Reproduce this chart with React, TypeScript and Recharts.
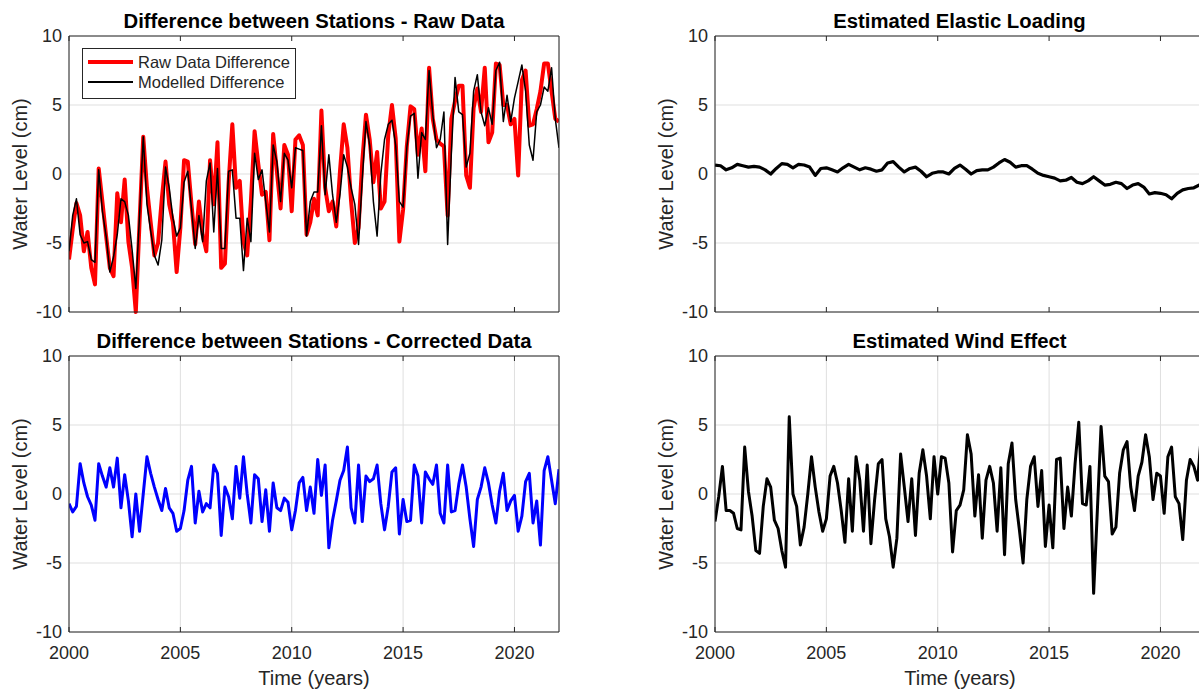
import React from 'react';
import { LineChart, Line, XAxis, YAxis, CartesianGrid } from 'recharts';

// sampling: difference/wind series every 2 months, elastic loading every quarter
const START_YEAR = 2000;
const BIMONTHLY = 6;
const QUARTERLY = 4;

const yearTicks = [2000, 2005, 2010, 2015, 2020];
const levelTicks = [-10, -5, 0, 5, 10];

const rawDiff = [
  -6.2, -4.0, -2.1, -3.0, -5.6, -4.2, -6.8, -8.0, 0.4, -2.0, -4.5, -6.8, -7.4, -1.4, -3.5, -0.4, -4.9, -6.8, -10.0, -3.5,
  2.7, -1.0, -3.5, -5.9, -5.0, -1.8, 0.9, -2.2, -3.5, -7.1, -3.9, 1.0, 0.9, -2.2, -5.1, -2.0, -4.4, -5.6, 1.0, -2.2,
  2.3, -6.8, -6.5, -0.6, 3.6, -1.0, -0.5, -4.9, -5.9, -2.0, 3.1, 0.7, -1.5, -1.3, -4.8, 2.9, 0.2, -2.5, 2.1, 1.4,
  -2.7, 2.5, 2.8, 2.1, -4.4, -3.5, -1.8, -3.0, 4.6, -1.0, -2.7, -2.0, -3.8, 0.2, 3.6, 1.9, -2.0, -5.0, -3.9, 0.9,
  4.3, 2.5, -0.6, 1.6, -2.5, -2.0, 2.8, 5.0, 2.6, -4.9, -2.6, 2.0, 4.9, 4.7, 1.4, 3.3, 0.2, 7.7, 4.0, 2.5,
  2.2, 2.0, -3.0, 4.0, 5.3, 6.4, 6.4, -0.1, -1.0, 4.8, 6.2, 4.5, 7.7, 2.3, 3.0, 8.0, 7.9, 5.0, 5.0, 3.6,
  4.0, -0.1, 6.8, 7.5, 3.5, 3.6, 4.7, 6.0, 8.0, 8.0, 6.0, 4.0, 3.8,
];

const modelledDiff = [
  -5.6, -3.0, -1.8, -4.4, -5.0, -4.9, -6.2, -6.4, 0.3, -2.7, -4.5, -7.1, -6.0, -4.4, -1.8, -2.0, -3.0, -5.5, -8.3, -3.0,
  2.7, -2.2, -4.1, -5.9, -6.6, -4.8, 0.5, -1.0, -3.2, -4.5, -3.9, -0.6, 0.2, -2.5, -5.4, -3.0, -4.9, -0.5, 0.8, -4.2,
  0.4, -5.4, -5.4, 0.2, 0.3, -3.2, -3.2, -7.0, -3.2, -4.9, 1.5, -0.4, 0.3, -2.0, -4.2, 2.1, 0.9, -2.0, 1.5, 1.0,
  -1.0, 1.9, 1.8, 1.7, -4.5, -2.0, -1.3, -1.3, 3.5, -1.5, 1.4, -1.5, -3.5, -1.5, 1.4, 0.5, -1.0, -2.2, -5.1, -0.4,
  3.8, 2.1, -2.0, -4.5, 0.0, 2.5, 3.6, 3.9, 2.1, -2.0, -2.4, 1.9, 4.2, 4.4, -0.3, 3.0, 2.5, 7.5, 4.3, 1.9,
  2.5, 4.5, -5.1, 1.5, 7.0, 4.5, 4.3, 0.5, 1.5, 6.0, 7.2, 4.5, 3.5, 4.8, 3.6, 7.5, 8.1, 3.8, 5.7, 3.8,
  5.5, 6.7, 7.9, 6.0, 2.1, 1.0, 4.5, 5.0, 6.3, 6.0, 7.7, 4.0, 1.9,
];

const correctedDiff = [
  -0.7, -1.3, -0.9, 2.2, 0.8, -0.2, -0.8, -1.9, 2.2, 1.3, 0.5, 1.9, 0.5, 2.6, -1.0, 1.4, -0.5, -3.1, 0.0, -2.7,
  0.0, 2.7, 1.5, 0.5, -0.4, -1.2, 0.4, -1.0, -1.4, -2.7, -2.5, -1.2, 1.0, 2.0, -2.1, 0.2, -1.3, -0.7, -1.0, 2.1,
  1.5, -3.0, 0.5, -0.2, -1.8, 2.0, -0.3, 2.7, 0.0, -2.1, 1.4, 1.1, -2.0, 0.3, -2.7, 0.8, -1.0, -1.2, -0.3, -0.6,
  -2.6, -1.2, 0.8, 1.2, -1.2, 0.5, -1.4, 2.5, -0.1, 2.1, -3.9, -1.9, -0.5, 1.0, 1.7, 3.4, -1.0, -2.1, 2.1, -2.0,
  1.3, 0.9, 1.1, 2.1, -0.7, -2.6, -0.9, 1.6, 1.9, -2.9, -0.4, -2.0, -1.9, 2.1, 1.3, -2.1, 1.6, 1.1, 0.7, 2.1,
  -1.4, -2.1, 2.1, -1.3, -1.2, 0.7, 2.1, 0.5, -1.8, -3.8, -0.4, 0.5, 1.9, 0.8, -0.8, -2.1, 0.2, 1.5, -1.2, -0.5,
  -0.1, -2.7, -1.6, 0.9, 1.5, -2.1, -0.5, -3.7, 1.7, 2.7, 1.0, -0.7, 1.8,
];

const windEffect = [
  -2.0, -0.2, 2.0, -1.2, -1.2, -1.4, -2.5, -2.6, 3.4, 0.2, -1.6, -4.1, -4.3, -0.9, 1.1, 0.5, -1.9, -2.5, -4.1, -5.3,
  5.6, 0.0, -0.9, -3.7, -2.4, 0.0, 2.7, 0.5, -1.3, -2.7, -1.8, 1.3, 2.0, 0.8, -1.2, -3.5, 1.1, -2.7, 2.7, 1.0,
  -2.7, 2.1, -3.6, -0.4, 2.2, 2.5, -1.8, -3.1, -5.3, -3.2, 2.9, 0.5, -2.0, 1.1, -3.0, 1.5, 3.2, 1.3, -1.8, 2.7,
  0.0, 2.7, 2.6, 0.8, -4.2, -1.2, -0.8, 0.3, 4.3, 2.9, -1.6, 1.4, -3.2, 1.0, 2.0, 0.8, -2.7, 1.9, -4.4, 2.2,
  3.7, -0.4, -2.6, -5.0, -0.4, 2.0, 2.7, -0.9, 1.7, -3.8, -0.8, -3.9, 2.5, 2.6, -2.5, 0.5, -1.6, 2.2, 5.2, -0.7,
  -0.8, 2.0, -7.2, -1.2, 4.9, 1.3, 0.9, -2.9, -2.4, 1.5, 3.2, 3.8, 0.5, -1.2, 1.3, 2.3, 4.3, 2.7, -0.4, 1.5,
  1.3, -1.4, 2.7, 3.4, -0.2, -0.7, -3.3, 1.0, 2.5, 2.0, 1.0, 4.2, 2.0,
];

const elasticLoading = [
  0.65, 0.6, 0.3, 0.45, 0.7, 0.6, 0.5, 0.55, 0.5, 0.3, 0.0, 0.4, 0.75, 0.7, 0.45, 0.7, 0.65, 0.5, -0.1, 0.4,
  0.45, 0.3, 0.15, 0.45, 0.7, 0.5, 0.3, 0.45, 0.35, 0.2, 0.3, 0.8, 0.9, 0.5, 0.15, 0.4, 0.5, 0.2, -0.2, 0.05,
  0.15, 0.15, 0.0, 0.4, 0.65, 0.35, 0.0, 0.25, 0.3, 0.3, 0.5, 0.8, 1.05, 0.85, 0.5, 0.6, 0.6, 0.35, 0.05, -0.1,
  -0.2, -0.3, -0.5, -0.45, -0.25, -0.6, -0.7, -0.5, -0.2, -0.5, -0.8, -0.75, -0.6, -0.7, -1.05, -0.8, -0.7, -0.95, -1.45, -1.35,
  -1.4, -1.5, -1.8, -1.4, -1.15, -1.05, -1.0, -0.8, -0.7,
];

type Row = Record<string, number>;

function buildRows(perYear: number, cols: Record<string, number[]>): Row[] {
  const n = Object.values(cols)[0].length;
  return Array.from({ length: n }, (_, i) => {
    const row: Row = { t: START_YEAR + i / perYear };
    for (const key of Object.keys(cols)) row[key] = cols[key][i];
    return row;
  });
}

const rawRows = buildRows(BIMONTHLY, { raw: rawDiff, model: modelledDiff });
const correctedRows = buildRows(BIMONTHLY, { corrected: correctedDiff });
const windRows = buildRows(BIMONTHLY, { wind: windEffect });
const elasticRows = buildRows(QUARTERLY, { elastic: elasticLoading });

const FONT = '"Liberation Sans", Arial, sans-serif';
const AXIS = '#262626';
const GRID = '#dfdfdf';
const PLOT_W = 490;
const PLOT_H = 276;
const AXIS_W = 69;
const PAD = 15; // room above/below the plot so edge tick labels are not cut

type SeriesDef = { key: string; color: string; width: number };

function Panel({
  left,
  top,
  title,
  data,
  series,
  showX,
}: {
  left: number;
  top: number;
  title: string;
  data: Row[];
  series: SeriesDef[];
  showX: boolean;
}) {
  const xAxisH = showX ? 58 : 1;
  const padBottom = showX ? 1 : PAD;
  const tickStyle = { fontSize: 18, fill: AXIS, fontFamily: FONT };
  const domainX: [number, number] = [2000, 2022];
  const domainY: [number, number] = [-10, 10];
  return (
    <>
      <div
        style={{
          position: 'absolute',
          left,
          top: top - 27,
          width: PLOT_W,
          textAlign: 'center',
          fontWeight: 'bold',
          fontSize: 20.3,
          lineHeight: '24px',
          color: '#000',
          fontFamily: FONT,
          whiteSpace: 'nowrap',
        }}
      >
        {title}
      </div>
      <div style={{ position: 'absolute', left: left - AXIS_W, top: top - PAD }}>
        <LineChart
          width={AXIS_W + PLOT_W + 2}
          height={PAD + PLOT_H + xAxisH + padBottom}
          data={data}
          margin={{ top: PAD, right: 2, bottom: padBottom, left: 0 }}
        >
          <CartesianGrid stroke={GRID} strokeWidth={1} />
          <XAxis
            dataKey="t"
            type="number"
            domain={domainX}
            ticks={yearTicks}
            allowDataOverflow
            height={xAxisH}
            tickLine={false}
            tickSize={5}
            tickMargin={9}
            axisLine={{ stroke: AXIS }}
            tick={showX ? tickStyle : false}
            label={
              showX
                ? { value: 'Time (years)', position: 'insideBottom', offset: 5, fontSize: 20, fill: AXIS, fontFamily: FONT }
                : undefined
            }
          />
          <XAxis xAxisId="top" orientation="top" mirror dataKey="t" type="number" domain={domainX} ticks={yearTicks}
            height={1} tickSize={5} tickFormatter={() => ''} axisLine={{ stroke: AXIS }} tickLine={{ stroke: AXIS }} />
          <XAxis xAxisId="in" orientation="bottom" mirror dataKey="t" type="number" domain={domainX} ticks={yearTicks}
            height={1} tickSize={5} tickFormatter={() => ''} axisLine={false} tickLine={{ stroke: AXIS }} />
          <YAxis
            type="number"
            domain={domainY}
            ticks={levelTicks}
            width={AXIS_W}
            tickLine={false}
            tickSize={5}
            tickMargin={2}
            axisLine={{ stroke: AXIS }}
            tick={tickStyle}
            label={{
              value: 'Water Level (cm)',
              angle: -90,
              position: 'insideLeft',
              offset: 20,
              fontSize: 20,
              fill: AXIS,
              fontFamily: FONT,
              style: { textAnchor: 'middle' },
            }}
          />
          <YAxis yAxisId="right" orientation="right" mirror type="number" domain={domainY} ticks={levelTicks}
            width={1} tickSize={5} tickFormatter={() => ''} axisLine={{ stroke: AXIS }} tickLine={{ stroke: AXIS }} />
          <YAxis yAxisId="in" orientation="left" mirror type="number" domain={domainY} ticks={levelTicks}
            width={1} tickSize={5} tickFormatter={() => ''} axisLine={false} tickLine={{ stroke: AXIS }} />
          {series.map((s) => (
            <Line
              key={s.key}
              dataKey={s.key}
              type="linear"
              stroke={s.color}
              strokeWidth={s.width}
              strokeLinejoin="round"
              dot={false}
              activeDot={false}
              isAnimationActive={false}
            />
          ))}
        </LineChart>
      </div>
    </>
  );
}

function RawLegend() {
  const row = (color: string, width: number, text: string) => (
    <div style={{ display: 'flex', alignItems: 'center', height: 20 }}>
      <div style={{ width: 45, height: width, background: color, marginLeft: 5, marginRight: 5 }} />
      <span>{text}</span>
    </div>
  );
  return (
    <div
      style={{
        position: 'absolute',
        left: 82,
        top: 48,
        width: 212,
        height: 46,
        border: `1px solid ${AXIS}`,
        background: '#fff',
        fontFamily: FONT,
        fontSize: 16.5,
        color: AXIS,
        paddingTop: 3,
        boxSizing: 'content-box',
      }}
    >
      {row('#ff0000', 4, 'Raw Data Difference')}
      {row('#000000', 1.5, 'Modelled Difference')}
    </div>
  );
}

export default function App() {
  return (
    <div
      style={{
        position: 'absolute',
        left: 0,
        top: 0,
        width: 1199,
        height: 690,
        overflow: 'hidden',
        background: '#fff',
        fontFamily: FONT,
      }}
    >
      <Panel
        left={69}
        top={36}
        title="Difference between Stations - Raw Data"
        data={rawRows}
        series={[
          { key: 'raw', color: '#ff0000', width: 4 },
          { key: 'model', color: '#000000', width: 1.5 },
        ]}
        showX={false}
      />
      <RawLegend />
      <Panel
        left={714.5}
        top={36}
        title="Estimated Elastic Loading"
        data={elasticRows}
        series={[{ key: 'elastic', color: '#000000', width: 3.2 }]}
        showX={false}
      />
      <Panel
        left={69}
        top={356}
        title="Difference between Stations - Corrected Data"
        data={correctedRows}
        series={[{ key: 'corrected', color: '#0000ff', width: 3 }]}
        showX
      />
      <Panel
        left={714.5}
        top={356}
        title="Estimated Wind Effect"
        data={windRows}
        series={[{ key: 'wind', color: '#000000', width: 3 }]}
        showX
      />
    </div>
  );
}
